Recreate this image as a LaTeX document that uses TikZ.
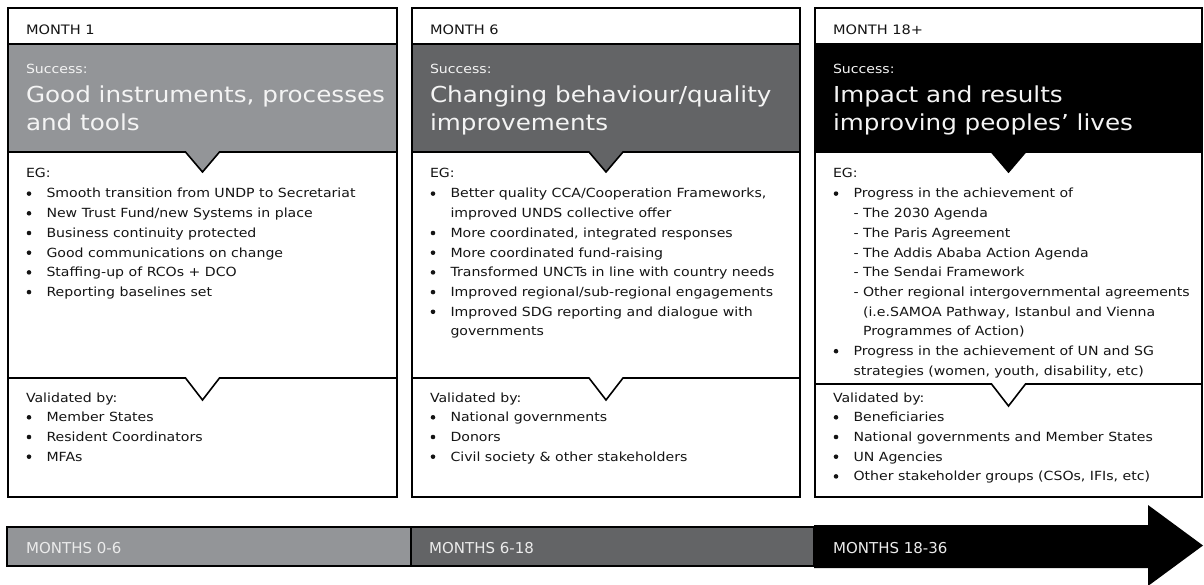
\documentclass[tikz,border=0pt]{standalone}
\usepackage{fontspec}
\setmainfont[FakeStretch=1.12]{DejaVu Sans}
\newfontfamily\barfont{DejaVu Sans}
\definecolor{bandA}{HTML}{939598}
\definecolor{bandB}{HTML}{636466}
\definecolor{txtdark}{HTML}{141414}
\definecolor{lighttxt}{HTML}{F4F4F4}
\tikzset{
  txt/.style={anchor=base west, inner sep=0pt, outer sep=0pt, font=\fontsize{12.6}{15}\selectfont, text=txtdark},
  hdr/.style={txt, font=\fontsize{13}{15}\selectfont},
  wtxt/.style={txt, text=lighttxt},
  ttl/.style={anchor=base west, inner sep=0pt, outer sep=0pt, font=\fontsize{22}{28}\selectfont, text=lighttxt},
  bul/.style={circle, fill=txtdark, inner sep=0pt, outer sep=0pt, minimum size=4.6pt},
  bartxt/.style={anchor=base west, inner sep=0pt, font=\barfont\fontsize{15}{18}\selectfont, text=lighttxt!92!gray},
  framebox/.style={draw=black, line width=2pt},
  divline/.style={draw=black, line width=1.6pt, line join=miter},
  bandshape/.style={draw=black, line width=1.6pt, line join=miter},
}
\newcommand\bitem[4]{%
  \node[bul] (#1d) at (#2+21,#3-4.4) {};
  \node[txt] (#1) at (#2+38.5,#3) {#4};}
\newcommand\contline[4]{\node[txt] (#1) at (#2,#3) {#4};}
% column skeleton: #1 left, #2 right, #3 band colour, #4 divider y
\newcommand\colskel[4]{%
  \path[bandshape, fill=#3] (#1,44) -- (#2,44) -- (#2,152) -- ({(#1+#2)/2+17},152) -- ({(#1+#2)/2},172) -- ({(#1+#2)/2-17},152) -- (#1,152) -- cycle;
  \draw[divline] (#1,#4) -- ({(#1+#2)/2-17},#4) -- ({(#1+#2)/2},#4+22) -- ({(#1+#2)/2+17},#4) -- (#2,#4);
  \draw[framebox] (#1,8) rectangle (#2,497);
}
\begin{document}
\begin{tikzpicture}[x=1pt,y=-1pt]
\useasboundingbox (0,0) rectangle (1204,585);
% ---------- column 1
\colskel{8}{397}{bandA}{378}
\node[hdr] (m1) at (26,34.3) {MONTH 1};
\node[wtxt] (s1) at (26,73.3) {Success:};
\node[ttl] (t1a) at (26,103) {Good instruments, processes};
\node[ttl] (t1b) at (26,131) {and tools};
\node[txt] (eg1) at (26,178) {EG:};
\bitem{a1}{8}{198}{Smooth transition from UNDP to Secretariat}
\bitem{a2}{8}{217.7}{New Trust Fund/new Systems in place}
\bitem{a3}{8}{237.4}{Business continuity protected}
\bitem{a4}{8}{257.1}{Good communications on change}
\bitem{a5}{8}{276.8}{Staffing-up of RCOs + DCO}
\bitem{a6}{8}{296.5}{Reporting baselines set}
\node[txt] (v1) at (26,402) {Validated by:};
\bitem{av1}{8}{421.7}{Member States}
\bitem{av2}{8}{441.4}{Resident Coordinators}
\bitem{av3}{8}{461.1}{MFAs}
% ---------- column 2
\colskel{412}{800}{bandB}{378}
\node[hdr] (m2) at (430,34.3) {MONTH 6};
\node[wtxt] (s2) at (430,73.3) {Success:};
\node[ttl] (t2a) at (430,103) {Changing behaviour/quality};
\node[ttl] (t2b) at (430,131) {improvements};
\node[txt] (eg2) at (430,178) {EG:};
\bitem{b1}{412}{198}{Better quality CCA/Cooperation Frameworks,}
\contline{b1c}{450.5}{217.7}{improved UNDS collective offer}
\bitem{b2}{412}{237.4}{More coordinated, integrated responses}
\bitem{b3}{412}{257.1}{More coordinated fund-raising}
\bitem{b4}{412}{276.8}{Transformed UNCTs in line with country needs}
\bitem{b5}{412}{296.5}{Improved regional/sub-regional engagements}
\bitem{b6}{412}{316.2}{Improved SDG reporting and dialogue with}
\contline{b6c}{450.5}{335.9}{governments}
\node[txt] (v2) at (430,402) {Validated by:};
\bitem{bv1}{412}{421.7}{National governments}
\bitem{bv2}{412}{441.4}{Donors}
\bitem{bv3}{412}{461.1}{Civil society \& other stakeholders}
% ---------- column 3
\colskel{815}{1202}{black}{384}
\node[hdr] (m3) at (833,34.3) {MONTH 18+};
\node[wtxt] (s3) at (833,73.3) {Success:};
\node[ttl] (t3a) at (833,103) {Impact and results};
\node[ttl] (t3b) at (833,131) {improving peoples’ lives};
\node[txt] (eg3) at (833,178) {EG:};
\bitem{c1}{815}{198}{Progress in the achievement of}
\contline{c1a}{853.5}{217.7}{- The 2030 Agenda}
\contline{c1b}{853.5}{237.4}{- The Paris Agreement}
\contline{c1c}{853.5}{257.1}{- The Addis Ababa Action Agenda}
\contline{c1d}{853.5}{276.8}{- The Sendai Framework}
\contline{c1e}{853.5}{296.5}{- Other regional intergovernmental agreements}
\contline{c1f}{863}{316.2}{(i.e.SAMOA Pathway, Istanbul and Vienna}
\contline{c1g}{863}{335.9}{Programmes of Action)}
\bitem{c2}{815}{355.6}{Progress in the achievement of UN and SG}
\contline{c2a}{853.5}{375.3}{strategies (women, youth, disability, etc)}
\node[txt] (v3) at (833,402) {Validated by:};
\bitem{cv1}{815}{421.7}{Beneficiaries}
\bitem{cv2}{815}{441.4}{National governments and Member States}
\bitem{cv3}{815}{461.1}{UN Agencies}
\bitem{cv4}{815}{480.8}{Other stakeholder groups (CSOs, IFIs, etc)}
% ---------- timeline bar
\draw[framebox, fill=bandA] (7,526.5) rectangle (411,566);
\draw[framebox, fill=bandB] (411,526.5) rectangle (814,566);
\fill[black] (814,525) -- (1148,525) -- (1148,505) -- (1203,545.5) -- (1148,586) -- (1148,568) -- (814,568) -- cycle;
\node[bartxt] (p1) at (26,553) {MONTHS 0-6};
\node[bartxt] (p2) at (429,553) {MONTHS 6-18};
\node[bartxt] (p3) at (833,553) {MONTHS 18-36};
\end{tikzpicture}
\end{document}
